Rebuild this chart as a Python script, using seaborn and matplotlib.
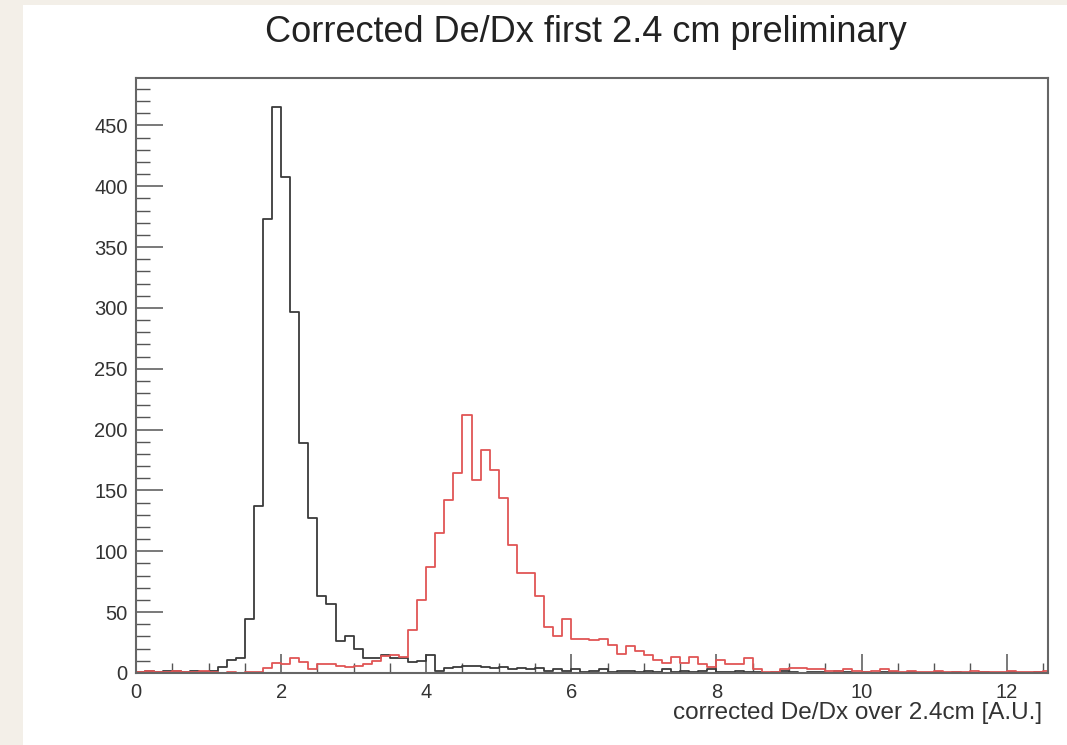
import numpy as np
import pandas as pd
import matplotlib
matplotlib.use("Agg")
import matplotlib.pyplot as plt
import seaborn as sns
from matplotlib.patches import Rectangle
from matplotlib.ticker import MultipleLocator

# ---------------- data ----------------
bin_width = 0.125
n_bins = 101

black_counts = [1, 2, 1, 2, 2, 1, 2, 1, 2, 5,
                11, 12, 44, 137, 373, 465, 408, 297, 189, 127,
                63, 57, 26, 30, 20, 12, 12, 15, 12, 12,
                9, 10, 15, 2, 4, 5, 6, 6, 5, 4,
                5, 3, 4, 3, 4, 2, 3, 2, 3, 1,
                2, 3, 1, 2, 2, 1, 2, 1, 3, 1,
                2, 1, 2, 3, 1, 1, 2, 1, 1, 0,
                1, 2, 1, 0, 1, 1, 0, 2, 1, 0,
                1, 0, 1, 1, 0, 1, 0, 0, 1, 0,
                1, 0, 0, 1, 0, 0, 1, 0, 0, 1,
                0]

red_counts = [1, 2, 1, 1, 2, 1, 1, 2, 1, 0,
              1, 0, 1, 1, 4, 8, 7, 12, 9, 3,
              7, 7, 6, 5, 6, 7, 10, 14, 15, 13,
              35, 60, 87, 115, 142, 164, 212, 159, 183, 167,
              144, 105, 82, 82, 63, 38, 30, 44, 28, 28,
              27, 28, 23, 16, 22, 18, 15, 11, 8, 13,
              8, 13, 7, 5, 11, 7, 7, 12, 3, 1,
              1, 3, 4, 4, 3, 3, 2, 2, 3, 2,
              1, 2, 3, 2, 1, 2, 1, 1, 2, 1,
              1, 1, 2, 1, 1, 1, 2, 1, 1, 1,
              2]

x_ticks = [0, 2, 4, 6, 8, 10, 12]
y_ticks = [0, 50, 100, 150, 200, 250, 300, 350, 400, 450]
title_text = "Corrected De/Dx first 2.4 cm preliminary"
xlabel_text = "corrected De/Dx over 2.4cm [A.U.]"

# ---------------- style ----------------
sns.set_style("ticks")
plt.rcParams['font.family'] = ['Liberation Sans', 'DejaVu Sans']

W, H = 1067, 745
fig = plt.figure(figsize=(W / 100, H / 100), dpi=100, facecolor='#f3efe8')
fig.patches.append(Rectangle((23 / W, 0), 1 - 23 / W, 1 - 5 / H,
                             transform=fig.transFigure, facecolor='white',
                             edgecolor='none', zorder=-10))

ax = fig.add_axes([136 / W, 72 / H, 912 / W, 595 / H])
ax.set_zorder(5)
ax.set_facecolor('white')

edges = [i * bin_width for i in range(n_bins + 1)]
centers = [e + bin_width / 2 for e in edges[:-1]]
df = pd.DataFrame({"x": centers, "black": black_counts, "red": red_counts})

sns.histplot(data=df, x="x", weights="black", bins=edges, element="step",
             fill=False, color="#3a3a3a", linewidth=1.3, ax=ax)
sns.histplot(data=df, x="x", weights="red", bins=edges, element="step",
             fill=False, color="#e05555", linewidth=1.3, ax=ax)

ax.set_xlim(0, 12.57)
ax.set_ylim(0, 489)
ax.set_xlabel("")
ax.set_ylabel("")

ax.set_xticks(x_ticks)
ax.set_xticklabels([str(t) for t in x_ticks])
ax.xaxis.set_minor_locator(MultipleLocator(0.5))
ax.set_yticks(y_ticks)
ax.set_yticklabels([str(t) for t in y_ticks])
ax.yaxis.set_minor_locator(MultipleLocator(10))

tick_col = '#555555'
ax.tick_params(axis='x', which='major', direction='in', length=13.5, width=1.1,
               color=tick_col, labelsize=14.5, labelcolor='#333333', pad=7,
               top=False)
ax.tick_params(axis='x', which='minor', direction='in', length=7, width=1.0,
               color=tick_col, top=False)
ax.tick_params(axis='y', which='major', direction='in', length=19.5, width=1.1,
               color=tick_col, labelsize=14.5, labelcolor='#333333', pad=6,
               right=False)
ax.tick_params(axis='y', which='minor', direction='in', length=10, width=1.0,
               color=tick_col, right=False)

for s in ax.spines.values():
    s.set_visible(True)
    s.set_color('#666666')
    s.set_linewidth(1.5)

fig.text(586 / W, 1 - 32 / H, title_text, ha='center', va='center',
         fontsize=26, color='#222222')
fig.text(1042 / W, 1 - 713 / H, xlabel_text, ha='right', va='center',
         fontsize=17.5, color='#333333')

fig.savefig("out.png", dpi=100, facecolor=fig.get_facecolor())
